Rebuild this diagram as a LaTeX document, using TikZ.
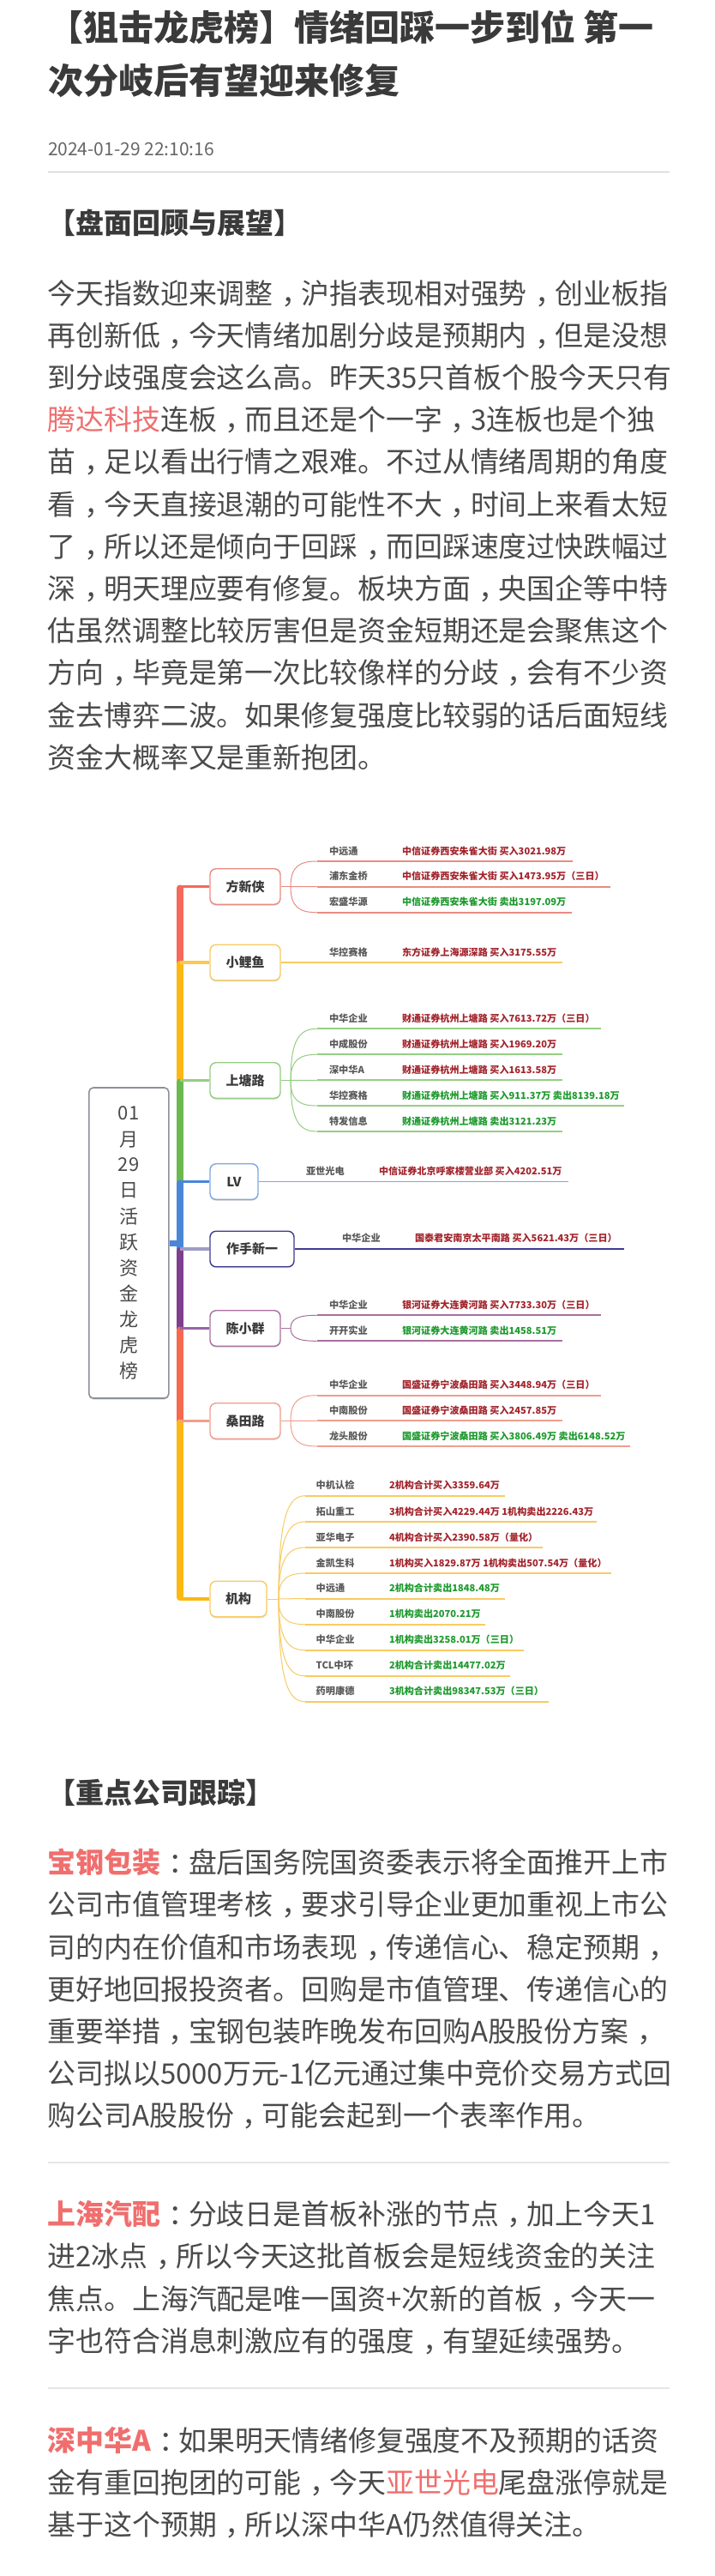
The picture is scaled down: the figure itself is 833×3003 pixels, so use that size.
\documentclass[tikz,border=0pt]{standalone}
\usepackage{fontspec}
\usetikzlibrary{calc,shadows}
\setmainfont{Noto Sans CJK SC}
\newcommand\dou{\kern.3em，\kern-.3em}
\newcommand\mao{\kern.3em：\kern-.3em}
\definecolor{ink}{HTML}{4A4A4A}
\definecolor{dark}{HTML}{3A3A3A}
\definecolor{hot}{HTML}{F06E6E}
\definecolor{rule}{HTML}{E6E6E6}
\definecolor{up}{HTML}{A3242C}
\definecolor{down}{HTML}{1E9A2E}
\definecolor{cA}{HTML}{F4695A}\definecolor{lA}{HTML}{E88C82}
\definecolor{cB}{HTML}{FDB813}\definecolor{lB}{HTML}{F8CB62}
\definecolor{cC}{HTML}{6BB84F}\definecolor{lC}{HTML}{95CE82}
\definecolor{cD}{HTML}{4A86D8}\definecolor{lD}{HTML}{7FA8DC}
\definecolor{cE}{HTML}{7F3F8F}\definecolor{lE}{HTML}{3F3A8E}
\definecolor{lF}{HTML}{A8709F}
\definecolor{cG}{HTML}{F4694F}\definecolor{lG}{HTML}{F09E8E}
\definecolor{rootc}{HTML}{8C919A}
\tikzset{
  x=1pt,y=-1pt,
  softdrop/.style={drop shadow={shadow xshift=0pt,shadow yshift=-1.5pt,opacity=.15,fill=black}},
  title/.style={anchor=base west,inner sep=0,outer sep=0,text=dark,font=\fontsize{41pt}{41pt}\selectfont\bfseries},
  date/.style={anchor=base west,inner sep=0,outer sep=0,text=black!60,font=\fontsize{21pt}{21pt}\selectfont},
  head/.style={anchor=base west,inner sep=0,outer sep=0,text=dark,font=\fontsize{33pt}{33pt}\selectfont\bfseries},
  para/.style={anchor=base west,inner sep=0,outer sep=0,text=ink,font=\fontsize{32.9pt}{33pt}\selectfont},
  rootch/.style={inner sep=0,outer sep=0,text=ink,font=\fontsize{22pt}{22pt}\selectfont},
  rootbox/.style={draw=rootc,line width=1.6,rounded corners=5,fill=white,minimum width=93,minimum height=362,inner sep=0,softdrop},
  br/.style={draw=#1,line width=1.4,rounded corners=7,fill=white,inner sep=0,minimum height=41.5,text=dark,font=\fontsize{15pt}{15pt}\selectfont\bfseries,softdrop},
  nm/.style={anchor=base west,inner sep=0,outer sep=0,text=black!65,font=\fontsize{11.2pt}{11.2pt}\selectfont\bfseries},
  dt/.style={anchor=base west,inner sep=0,outer sep=0,font=\fontsize{11.1pt}{11.1pt}\selectfont\bfseries},
  cur/.style={line width=1},
  uline/.style={line width=1.7},
  spine/.style={line width=8,line cap=round},
  twig/.style={line width=3.5},
}
\newcommand\leaf[7]{% id, hub, yline, xend, name, colour, detail
  \coordinate (#1s) at (\lx,#3);
  \coordinate (#1e) at (#4,#3);
  \node[nm] (#1n) at (\nx,#3-8) {#5};
  \node[dt,text=#6] (#1d) at (\dx,#3-8) {#7};
  \draw[cur] (#2) .. controls ($(#2)!.8!(#2 |- #1s)$) and ([xshift=-20]#1s) .. (#1s);
  \draw[uline] (#1s) -- (#1e);
}
\begin{document}
\begin{tikzpicture}
\useasboundingbox (0,0) rectangle (833,3003);
\fill[white] (0,0) rectangle (833,3003);
% header
\node[title] (t1) at (56,48) {【狙击龙虎榜】情绪回踩一步到位 第一};
\node[title] (t2) at (56,110) {次分岐后有望迎来修复};
\node[date] (dt1) at (56,181) {2024-01-29 22:10:16};
\coordinate (r0a) at (56,200.7); \coordinate (r0b) at (781,200.7);
\draw[black!22,line width=1] (r0a) -- (r0b);
\node[head] (h1) at (55,272) {【盘面回顾与展望】};
% body
\node[para] (p1)  at (55.5,354) {今天指数迎来调整\dou 沪指表现相对强势\dou 创业板指};
\node[para] (p2)  at (55.5,403.2) {再创新低\dou 今天情绪加剧分歧是预期内\dou 但是没想};
\node[para] (p3)  at (55.5,452.4) {到分歧强度会这么高。昨天35只首板个股今天只有};
\node[para] (p4)  at (55.5,501.6) {\textcolor{hot}{腾达科技}连板\dou 而且还是个一字\dou 3连板也是个独};
\node[para] (p5)  at (55.5,550.8) {苗\dou 足以看出行情之艰难。不过从情绪周期的角度};
\node[para] (p6)  at (55.5,600) {看\dou 今天直接退潮的可能性不大\dou 时间上来看太短};
\node[para] (p7)  at (55.5,649.2) {了\dou 所以还是倾向于回踩\dou 而回踩速度过快跌幅过};
\node[para] (p8)  at (55.5,698.4) {深\dou 明天理应要有修复。板块方面\dou 央国企等中特};
\node[para] (p9)  at (55.5,747.6) {估虽然调整比较厉害但是资金短期还是会聚焦这个};
\node[para] (p10) at (55.5,796.8) {方向\dou 毕竟是第一次比较像样的分歧\dou 会有不少资};
\node[para] (p11) at (55.5,846) {金去博弈二波。如果修复强度比较弱的话后面短线};
\node[para] (p12) at (55.5,895.2) {资金大概率又是重新抱团。};
% mind map: spine
\coordinate (s1) at (209.5,1033.5);
\coordinate (s2) at (209.5,1122);
\coordinate (s3) at (209.5,1259.5);
\coordinate (s4) at (209.5,1377.5);
\coordinate (s5) at (209.5,1456);
\coordinate (s6) at (209.5,1548.5);
\coordinate (s7) at (209.5,1656.5);
\coordinate (s8) at (209.5,1864);
\draw[spine,cA] ($(s1)+(0,2)$) -- (s2);
\draw[spine,cB] ($(s2)+(0,2)$) -- (s3);
\draw[spine,cC] ($(s3)+(0,2)$) -- (s4);
\draw[spine,cD] ($(s4)+(0,2)$) -- (s5);
\draw[spine,cE] ($(s5)+(0,2)$) -- (s6);
\draw[spine,cG] ($(s6)+(0,2)$) -- (s7);
\draw[spine,cB] ($(s7)+(0,2)$) -- ($(s8)-(0,2)$);
% root
\node[rootbox] (root) at (150.3,1449) {};
\draw[cD,line width=7] (root.east) -- (root.east -| s4);
\node[rootch] (rc1) at (150,1298) {01};
\node[rootch] (rc2) at (150,1329) {月};
\node[rootch] (rc3) at (150,1358) {29};
\node[rootch] (rc4) at (150,1388) {日};
\node[rootch] (rc5) at (150,1418) {活};
\node[rootch] (rc6) at (150,1448) {跃};
\node[rootch] (rc7) at (150,1478) {资};
\node[rootch] (rc8) at (150,1508) {金};
\node[rootch] (rc9) at (150,1538) {龙};
\node[rootch] (rc10) at (150,1568) {虎};
\node[rootch] (rc11) at (150,1598) {榜};
% branch boxes
\node[br=lA,minimum width=82] (b1) at (286,1033.5) {方新侠};
\node[br=lB,minimum width=82] (b2) at (286,1122) {小鲤鱼};
\node[br=lC,minimum width=82] (b3) at (286,1259.5) {上塘路};
\node[br=lD,minimum width=56] (b4) at (273,1377.5) {LV};
\node[br=lE,minimum width=98] (b5) at (294,1456) {作手新一};
\node[br=lF,minimum width=82] (b6) at (286,1548.5) {陈小群};
\node[br=lG,minimum width=82] (b7) at (286,1656.5) {桑田路};
\node[br=lB,minimum width=66] (b8) at (278,1864) {机构};
\draw[twig,cA] (s1) -- (b1.west);
\draw[twig,cB!75!white] (s2) -- (b2.west);
\draw[twig,lC] (s3) -- (b3.west);
\draw[twig,cD] (s4) -- (b4.west);
\draw[twig,lE!50] (s5) -- (b5.west);
\draw[twig,cE!80] (s6) -- (b6.west);
\draw[twig,lG] (s7) -- (b7.west);
\draw[twig,cB] (s8) -- (b8.west);
% hubs
\coordinate (ha) at (339,1033.5);
\coordinate (hc) at (339,1259.5);
\coordinate (hf) at (339,1548.5);
\coordinate (hg) at (339,1656.5);
\coordinate (hh) at (325,1864);
\def\lx{369.6}\def\nx{384}\def\dx{469}
\begin{scope}[lA]
\draw[cur] (b1.east) -- (ha);
\leaf{a1}{ha}{1004}{668}{中远通}{up}{中信证券西安朱雀大街 买入3021.98万}
\leaf{a2}{ha}{1033.7}{712}{浦东金桥}{up}{中信证券西安朱雀大街 买入1473.95万（三日）}
\leaf{a3}{ha}{1063.7}{667}{宏盛华源}{down}{中信证券西安朱雀大街 卖出3197.09万}
\end{scope}
\begin{scope}[lB]
\coordinate (b2e) at (656,1122);
\draw[uline] (b2.east) -- (b2e);
\node[nm] (b2n) at (384,1114) {华控赛格};
\node[dt,text=up] (b2d) at (469,1114) {东方证券上海源深路 买入3175.55万};
\end{scope}
\begin{scope}[lC]
\draw[cur] (b3.east) -- (hc);
\leaf{c1}{hc}{1199.3}{700.6}{中华企业}{up}{财通证券杭州上塘路 买入7613.72万（三日）}
\leaf{c2}{hc}{1229.3}{656}{中成股份}{up}{财通证券杭州上塘路 买入1969.20万}
\leaf{c3}{hc}{1259.3}{656}{深中华A}{up}{财通证券杭州上塘路 买入1613.58万}
\leaf{c4}{hc}{1289}{728}{华控赛格}{down}{财通证券杭州上塘路 买入911.37万 卖出8139.18万}
\leaf{c5}{hc}{1319}{656}{特发信息}{down}{财通证券杭州上塘路 卖出3121.23万}
\end{scope}
\begin{scope}[lD]
\coordinate (b4e) at (663,1377.5);
\draw[uline] (b4.east) -- (b4e);
\node[nm] (b4n) at (357,1369.5) {亚世光电};
\node[dt,text=up] (b4d) at (442,1369.5) {中信证券北京呼家楼营业部 买入4202.51万};
\end{scope}
\begin{scope}[lE]
\coordinate (b5e) at (727.6,1456);
\draw[line width=1.2] (b5.east) -- (b5e);
\node[nm] (b5n) at (399,1447) {中华企业};
\node[dt,text=up] (b5d) at (484,1447) {国泰君安南京太平南路 买入5621.43万（三日）};
\end{scope}
\begin{scope}[lF]
\draw[cur] (b6.east) -- (hf);
\leaf{f1}{hf}{1533.3}{700.6}{中华企业}{up}{银河证券大连黄河路 买入7733.30万（三日）}
\leaf{f2}{hf}{1563.3}{656}{开开实业}{down}{银河证券大连黄河路 卖出1458.51万}
\end{scope}
\begin{scope}[lG]
\draw[cur] (b7.east) -- (hg);
\leaf{g1}{hg}{1626.7}{700.6}{中华企业}{up}{国盛证券宁波桑田路 买入3448.94万（三日）}
\leaf{g2}{hg}{1656.3}{656}{中南股份}{up}{国盛证券宁波桑田路 买入2457.85万}
\leaf{g3}{hg}{1686}{735}{龙头股份}{down}{国盛证券宁波桑田路 买入3806.49万 卖出6148.52万}
\end{scope}
\def\lx{356}\def\nx{368.7}\def\dx{454}
\begin{scope}[lB]
\draw[cur] (b8.east) -- (hh);
\leaf{h1}{hh}{1743.7}{588.5}{中机认检}{up}{2机构合计买入3359.64万}
\leaf{h2}{hh}{1774}{695.7}{拓山重工}{up}{3机构合计买入4229.44万 1机构卖出2226.43万}
\leaf{h3}{hh}{1804}{633}{亚华电子}{up}{4机构合计买入2390.58万（量化）}
\leaf{h4}{hh}{1834}{712.7}{金凯生科}{up}{1机构买入1829.87万 1机构卖出507.54万（量化）}
\leaf{h5}{hh}{1863.7}{589.4}{中远通}{down}{2机构合计卖出1848.48万}
\leaf{h6}{hh}{1893.7}{565.6}{中南股份}{down}{1机构卖出2070.21万}
\leaf{h7}{hh}{1923.7}{610.5}{中华企业}{down}{1机构卖出3258.01万（三日）}
\leaf{h8}{hh}{1953.7}{595}{TCL中环}{down}{2机构合计卖出14477.02万}
\leaf{h9}{hh}{1983.7}{640}{药明康德}{down}{3机构合计卖出98347.53万（三日）}
\end{scope}
% lower text
\node[head] (h2) at (55,2102) {【重点公司跟踪】};
\node[para] (q1) at (55.5,2183.7) {\textcolor{hot}{\bfseries 宝钢包装}\mao 盘后国务院国资委表示将全面推开上市};
\node[para] (q2) at (55.5,2232.9) {公司市值管理考核\dou 要求引导企业更加重视上市公};
\node[para] (q3) at (55.5,2282.1) {司的内在价值和市场表现\dou 传递信心、稳定预期\dou};
\node[para] (q4) at (55.5,2331.3) {更好地回报投资者。回购是市值管理、传递信心的};
\node[para] (q5) at (55.5,2380.5) {重要举措\dou 宝钢包装昨晚发布回购A股股份方案\dou};
\node[para] (q6) at (55.5,2429.7) {公司拟以5000万元-1亿元通过集中竞价交易方式回};
\node[para] (q7) at (55.5,2478.9) {购公司A股股份\dou 可能会起到一个表率作用。};
\coordinate (r1a) at (56,2521); \coordinate (r1b) at (781,2521);
\draw[rule,line width=2.5] (r1a) -- (r1b);
\node[para] (u1) at (55.5,2593.7) {\textcolor{hot}{\bfseries 上海汽配}\mao 分歧日是首板补涨的节点\dou 加上今天1};
\node[para] (u2) at (55.5,2642.9) {进2冰点\dou 所以今天这批首板会是短线资金的关注};
\node[para] (u3) at (55.5,2692.1) {焦点。上海汽配是唯一国资+次新的首板\dou 今天一};
\node[para] (u4) at (55.5,2741.3) {字也符合消息刺激应有的强度\dou 有望延续强势。};
\coordinate (r2a) at (56,2784); \coordinate (r2b) at (781,2784);
\draw[rule,line width=2.5] (r2a) -- (r2b);
\node[para] (v1) at (55.5,2857) {\textcolor{hot}{\bfseries 深中华A}\mao 如果明天情绪修复强度不及预期的话资};
\node[para] (v2) at (55.5,2906.2) {金有重回抱团的可能\dou 今天\textcolor{hot}{亚世光电}尾盘涨停就是};
\node[para] (v3) at (55.5,2955.4) {基于这个预期\dou 所以深中华A仍然值得关注。};
\end{tikzpicture}
\end{document}
